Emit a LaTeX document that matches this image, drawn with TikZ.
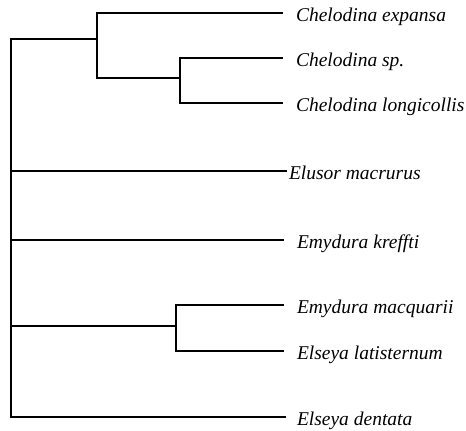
\documentclass[tikz,border=0pt]{standalone}
\usepackage{fontspec}
\setmainfont{Liberation Serif}
\usetikzlibrary{positioning}

\begin{document}
\begin{tikzpicture}[x=1pt, y=-1pt,
    branch/.style={line width=1.5pt, line join=miter, line cap=rect},
    taxon/.style={anchor=west, inner xsep=14pt, inner ysep=0pt, outer sep=0pt,
        text height=16pt, text depth=0pt, font=\fontsize{19.5}{23}\selectfont\itshape}]
        \useasboundingbox (0,0) rectangle (466,431);

        % Inner nodes of the tree
        \coordinate (root) at (11,39);
        \coordinate (chel) at (97,39);
        \coordinate (chelsub) at (180,78);
        \coordinate (emy) at (176,326);

        % Taxa
        \node[taxon] (expansa) at (282,13) {Chelodina expansa};
        \node[taxon] (chelsp) at (282,58) {Chelodina sp.};
        \node[taxon] (longi) at (282,103) {Chelodina longicollis};
        \node[taxon, inner xsep=3pt] (elusor) at (286,171) {Elusor macrurus};
        \node[taxon] (krefft) at (283,240) {Emydura kreffti};
        \node[taxon] (macq) at (283,305) {Emydura macquarii};
        \node[taxon] (latis) at (283,351) {Elseya latisternum};
        \node[taxon, inner xsep=12pt] (dentata) at (285,417) {Elseya dentata};

        % Branches
        \draw[branch] (root) -- (chel);
        \draw[branch] (root) |- (elusor);
        \draw[branch] (root) |- (krefft);
        \draw[branch] (root) |- (emy);
        \draw[branch] (root) |- (dentata);
        \draw[branch] (chel) |- (expansa);
        \draw[branch] (chel) |- (chelsub);
        \draw[branch] (chelsub) |- (chelsp);
        \draw[branch] (chelsub) |- (longi);
        \draw[branch] (emy) |- (macq);
        \draw[branch] (emy) |- (latis);
    \end{tikzpicture}
\end{document}
